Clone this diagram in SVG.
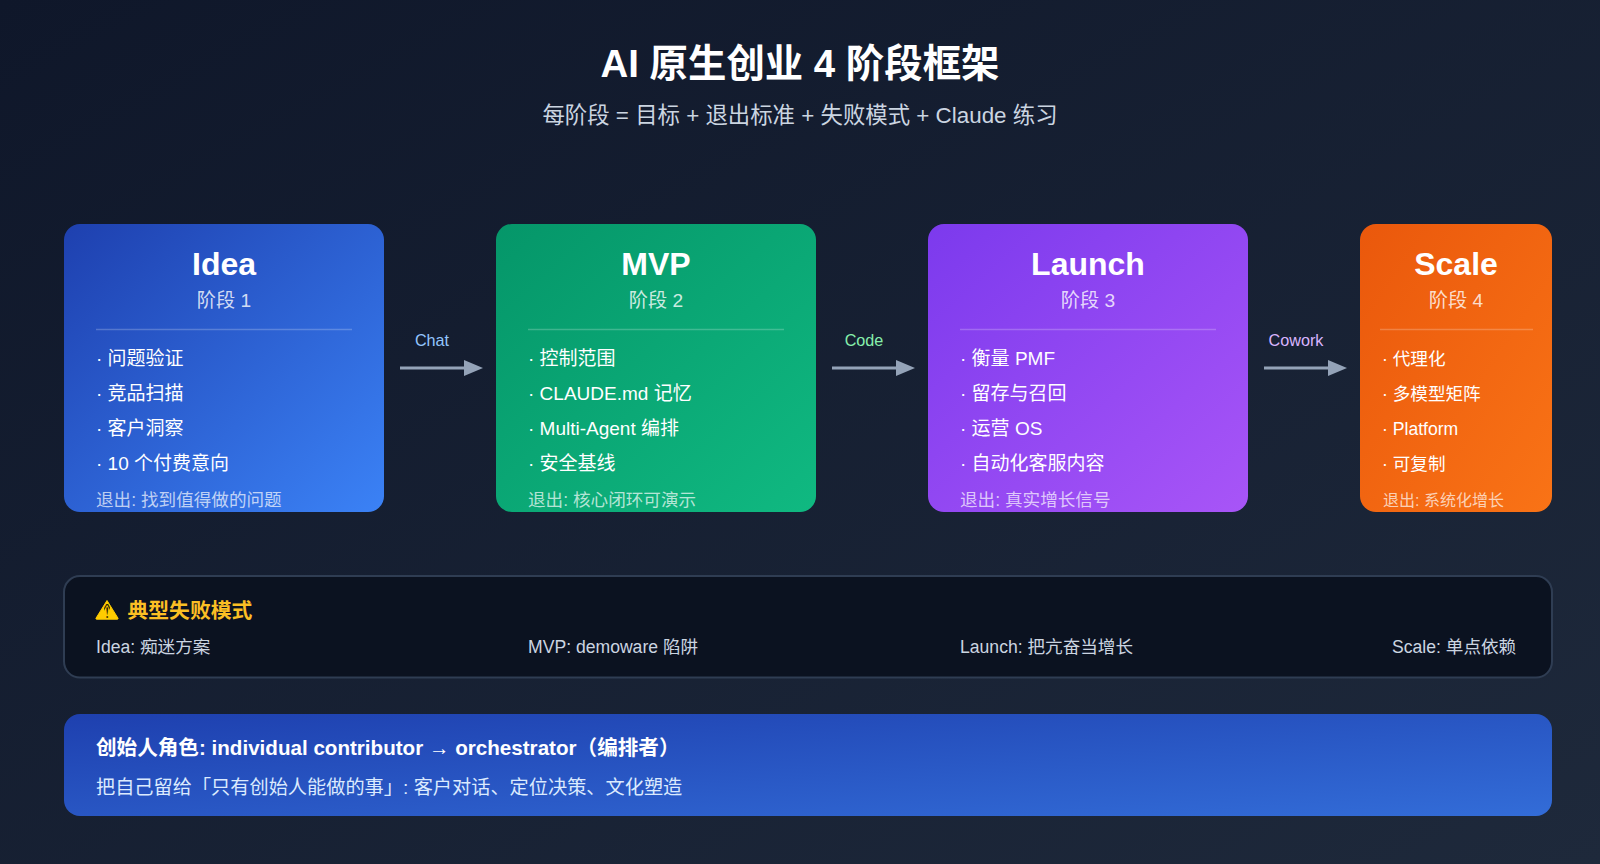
<svg xmlns="http://www.w3.org/2000/svg" width="1600" height="864" viewBox="0 0 1600 864">
<defs>
<linearGradient id="bg" x1="0" y1="0" x2="1" y2="1"><stop offset="0" stop-color="#0f172a"/><stop offset="1" stop-color="#1e293b"/></linearGradient>
<linearGradient id="g1" x1="0" y1="0" x2="1" y2="1"><stop offset="0" stop-color="#1e40af"/><stop offset="1" stop-color="#3b82f6"/></linearGradient>
<linearGradient id="g2" x1="0" y1="0" x2="1" y2="1"><stop offset="0" stop-color="#059669"/><stop offset="1" stop-color="#10b981"/></linearGradient>
<linearGradient id="g3" x1="0" y1="0" x2="1" y2="1"><stop offset="0" stop-color="#7c3aed"/><stop offset="1" stop-color="#a855f7"/></linearGradient>
<linearGradient id="g4" x1="0" y1="0" x2="1" y2="1"><stop offset="0" stop-color="#ea580c"/><stop offset="1" stop-color="#f97316"/></linearGradient>
<linearGradient id="g5" x1="0" y1="0" x2="1.4" y2="1.4"><stop offset="0" stop-color="#1e40af"/><stop offset="1" stop-color="#3b7ee8"/></linearGradient>
<marker id="arrow" markerUnits="userSpaceOnUse" markerWidth="20" markerHeight="16" refX="0" refY="8" orient="auto"><path d="M0 0L19 8L0 16Z" fill="#94a3b8"/></marker>
<clipPath id="c1"><rect x="64" y="224" width="320" height="288" rx="16"/></clipPath>
<clipPath id="c2"><rect x="496" y="224" width="320" height="288" rx="16"/></clipPath>
<clipPath id="c3"><rect x="928" y="224" width="320" height="288" rx="16"/></clipPath>
<clipPath id="c4"><rect x="1360" y="224" width="192" height="288" rx="16"/></clipPath>
<clipPath id="bang"><rect x="104" y="604" width="6" height="14.5"/></clipPath>
</defs>
<style>
text{font-family:"Liberation Sans","Noto Sans CJK SC",sans-serif}
.t{font-size:38.4px;font-weight:700;fill:#fff;text-anchor:middle}
.s{font-size:22.4px;fill:#cbd5e1;text-anchor:middle}
.h{font-size:32px;font-weight:700;fill:#fff;text-anchor:middle}
.p{font-size:19.2px;fill:rgba(255,255,255,.8);text-anchor:middle}
.b{font-size:19px;fill:#fff}
.b2{font-size:17.6px;fill:#fff}
.e{font-size:17.6px;fill:rgba(255,255,255,.7)}
.e2{font-size:16px;fill:rgba(255,255,255,.7)}
.d{stroke:rgba(255,255,255,.22);stroke-width:1.6}
.l{font-size:16.2px;text-anchor:middle}
.f{font-size:17.6px;fill:#cbd5e1}
.a{stroke:#94a3b8;stroke-width:3;fill:none;marker-end:url(#arrow)}
</style>
<rect width="1600" height="864" fill="url(#bg)"/>
<g id="header">
<text class="t" x="800" y="77">AI 原生创业 4 阶段框架</text>
<text class="s" x="800" y="122.5">每阶段 = 目标 + 退出标准 + 失败模式 + Claude 练习</text>
</g>
<g id="node-idea">
<rect x="64" y="224" width="320" height="288" rx="16" fill="url(#g1)"/>
<text class="h" x="224" y="275">Idea</text><text class="p" x="224" y="307">阶段 1</text>
<line class="d" x1="96" y1="329.5" x2="352" y2="329.5"/>
<text class="b" x="96" y="365.2">· 问题验证</text><text class="b" x="96" y="400.2">· 竞品扫描</text><text class="b" x="96" y="435.2">· 客户洞察</text><text class="b" x="96" y="470.2">· 10 个付费意向</text>
<g clip-path="url(#c1)"><text class="e" x="96" y="506">退出: 找到值得做的问题</text></g>
</g>
<g id="node-mvp">
<rect x="496" y="224" width="320" height="288" rx="16" fill="url(#g2)"/>
<text class="h" x="656" y="275">MVP</text><text class="p" x="656" y="307">阶段 2</text>
<line class="d" x1="528" y1="329.5" x2="784" y2="329.5"/>
<text class="b" x="528" y="365.2">· 控制范围</text><text class="b" x="528" y="400.2">· CLAUDE.md 记忆</text><text class="b" x="528" y="435.2">· Multi-Agent 编排</text><text class="b" x="528" y="470.2">· 安全基线</text>
<g clip-path="url(#c2)"><text class="e" x="528" y="506">退出: 核心闭环可演示</text></g>
</g>
<g id="node-launch">
<rect x="928" y="224" width="320" height="288" rx="16" fill="url(#g3)"/>
<text class="h" x="1088" y="275">Launch</text><text class="p" x="1088" y="307">阶段 3</text>
<line class="d" x1="960" y1="329.5" x2="1216" y2="329.5"/>
<text class="b" x="960" y="365.2">· 衡量 PMF</text><text class="b" x="960" y="400.2">· 留存与召回</text><text class="b" x="960" y="435.2">· 运营 OS</text><text class="b" x="960" y="470.2">· 自动化客服内容</text>
<g clip-path="url(#c3)"><text class="e" x="960" y="506">退出: 真实增长信号</text></g>
</g>
<g id="node-scale">
<rect x="1360" y="224" width="192" height="288" rx="16" fill="url(#g4)"/>
<text class="h" x="1456" y="275">Scale</text><text class="p" x="1456" y="307">阶段 4</text>
<line class="d" x1="1380" y1="329.5" x2="1533" y2="329.5"/>
<text class="b2" x="1382" y="364.6">· 代理化</text><text class="b2" x="1382" y="399.6">· 多模型矩阵</text><text class="b2" x="1382" y="434.6">· Platform</text><text class="b2" x="1382" y="469.6">· 可复制</text>
<g clip-path="url(#c4)"><text class="e2" x="1383" y="506">退出: 系统化增长</text></g>
</g>
<g id="connectors">
<line class="a" x1="400" y1="368" x2="464" y2="368"/>
<line class="a" x1="832" y1="368" x2="896" y2="368"/>
<line class="a" x1="1264" y1="368" x2="1328" y2="368"/>
<text class="l" x="432" y="346" fill="#93c5fd">Chat</text>
<text class="l" x="864" y="346" fill="#86efac">Code</text>
<text class="l" x="1296" y="346" fill="#d8b4fe">Cowork</text>
</g>
<g id="failure-panel">
<rect x="64" y="576" width="1488" height="101.6" rx="16" fill="#0b1220" stroke="#2f3d53" stroke-width="2"/>
<path d="M107 600.5L118 618.2a.7.7 0 0 1-.6 1H96.6a.7.7 0 0 1-.6-1Z" fill="#ffcc00" stroke="#ffcc00" stroke-linejoin="round"/>
<text x="107" y="620" font-size="24" text-anchor="middle" style="font-family:'DejaVu Sans',sans-serif" fill="#2a2100" clip-path="url(#bang)">⚠</text>
<text x="127.5" y="618" font-size="20.8" font-weight="700" fill="#fbbf24">典型失败模式</text>
<text class="f" x="96" y="653">Idea: 痴迷方案</text>
<text class="f" x="528" y="653">MVP: demoware 陷阱</text>
<text class="f" x="960" y="653">Launch: 把亢奋当增长</text>
<text class="f" x="1392" y="653">Scale: 单点依赖</text>
</g>
<g id="role-panel">
<rect x="64" y="714" width="1488" height="102" rx="16" fill="url(#g5)"/>
<text x="96" y="755" font-size="20.6" font-weight="700" fill="#fff">创始人角色: individual contributor → orchestrator（编排者）</text>
<text x="96" y="794" font-size="19.2" fill="#dbeafe">把自己留给「只有创始人能做的事」: 客户对话、定位决策、文化塑造</text>
</g>
</svg>
